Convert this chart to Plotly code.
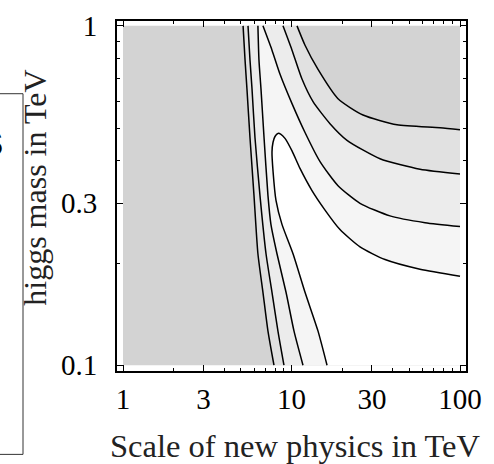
import plotly.graph_objects as go

# Contour curves in the (scale of new physics, Higgs mass) plane, both in TeV.
# Each curve is listed as (Lambda, m_h) samples running from one edge of the box to another.
line_a_lam = [5.16, 5.30, 5.44, 5.67, 5.99, 6.32, 6.77, 7.25, 7.87]
line_a_mh = [1.0, 0.794, 0.652, 0.469, 0.316, 0.213, 0.164, 0.126, 0.1]

line_b_lam = [5.52, 5.67, 5.83, 6.07, 6.50, 7.06, 7.66, 8.31, 9.02]
line_b_mh = [1.0, 0.794, 0.652, 0.469, 0.316, 0.213, 0.164, 0.126, 0.1]

line_c_lam = [6.32, 6.41, 6.59, 6.87, 7.25, 7.55, 8.20, 9.28, 10.35, 11.70]
line_c_mh = [1.0, 0.794, 0.652, 0.469, 0.316, 0.260, 0.213, 0.164, 0.126, 0.1]

# innermost curve: rises from the bottom edge to a sharp tip, then bends over to the right edge
tongue_lam = [16.25, 14.37, 12.03, 10.21, 8.78, 8.09, 7.77, 7.66, 7.77, 7.98, 8.31, 8.66,
              9.15, 10.07, 11.23, 13.23, 15.81, 19.40, 25.5, 35.9, 57.9, 100]
tongue_mh = [0.1, 0.126, 0.164, 0.213, 0.260, 0.306, 0.373, 0.425, 0.454, 0.472, 0.482, 0.479,
             0.466, 0.428, 0.380, 0.327, 0.2865, 0.251, 0.2232, 0.2048, 0.1918, 0.183]

line_d_lam = [6.77, 7.66, 8.55, 10.07, 12.03, 14.77, 18.88, 25.5, 38.4, 62.0, 100]
line_d_mh = [1.0, 0.848, 0.720, 0.590, 0.485, 0.398, 0.338, 0.300, 0.2754, 0.263, 0.2562]

line_e_lam = [8.90, 10.07, 11.54, 13.42, 16.92, 21.35, 33.52, 57.9, 100]
line_e_mh = [1.0, 0.848, 0.697, 0.598, 0.515, 0.460, 0.406, 0.378, 0.366]

line_f_lam = [10.78, 12.03, 14.37, 18.88, 26.57, 42.27, 76.1, 100]
line_f_mh = [1.0, 0.877, 0.744, 0.610, 0.546, 0.511, 0.501, 0.494]

lam_min, lam_max = 1.0, 100.0
mh_min, mh_max = 0.1, 1.0

x_major = [1, 3, 10, 30, 100]
x_major_text = ["1", "3", "10", "30", "100"]
x_minor = [2, 4, 5, 6, 7, 8, 9, 20, 40, 50, 60, 70, 80, 90]
y_major = [0.1, 0.3, 1]
y_major_text = ["0.1", "0.3", "1"]
y_minor = [0.2, 0.4, 0.5, 0.6, 0.7, 0.8, 0.9]

# grey levels of the shaded bands, darkest (outer) to lightest (inner)
shade_4 = "#d3d3d3"
shade_3 = "#e1e1e1"
shade_2 = "#ececec"
shade_1 = "#f5f5f5"
shade_0 = "#ffffff"

fig = go.Figure()


def band(left_lam, left_mh, right_lam, right_mh, color):
    """Region to the right of one curve and below the matching upper-right curve."""
    xs = list(left_lam) + [lam_max] + list(reversed(right_lam))
    ys = list(left_mh) + [mh_min] + list(reversed(right_mh))
    fig.add_trace(go.Scatter(x=xs, y=ys, fill="toself", fillcolor=color,
                             mode="none", hoverinfo="skip", showlegend=False))


# outermost level covers the whole box
fig.add_trace(go.Scatter(x=[lam_min, lam_max, lam_max, lam_min],
                         y=[mh_min, mh_min, mh_max, mh_max],
                         fill="toself", fillcolor=shade_4, mode="none",
                         hoverinfo="skip", showlegend=False))
band(line_a_lam, line_a_mh, line_f_lam, line_f_mh, shade_3)
band(line_b_lam, line_b_mh, line_e_lam, line_e_mh, shade_2)
band(line_c_lam, line_c_mh, line_d_lam, line_d_mh, shade_1)
fig.add_trace(go.Scatter(x=tongue_lam + [lam_max], y=tongue_mh + [mh_min],
                         fill="toself", fillcolor=shade_0, mode="none",
                         hoverinfo="skip", showlegend=False))

for xs, ys in [(line_a_lam, line_a_mh), (line_b_lam, line_b_mh), (line_c_lam, line_c_mh),
               (tongue_lam, tongue_mh), (line_d_lam, line_d_mh), (line_e_lam, line_e_mh),
               (line_f_lam, line_f_mh)]:
    fig.add_trace(go.Scatter(x=xs, y=ys, mode="lines",
                             line=dict(color="black", width=1.5, shape="spline", smoothing=0.6),
                             hoverinfo="skip", showlegend=False))

serif = "Liberation Serif"
W, H = 494, 464
ml, mr, mt, mb = 117, 28, 10, 93
pw, ph = W - ml - mr, H - mt - mb

axis_common = dict(type="log", showgrid=False, zeroline=False, showline=True,
                   linecolor="black", linewidth=2, mirror="ticks",
                   ticks="inside", ticklen=6, tickwidth=1.3, tickcolor="black",
                   tickfont=dict(family=serif, size=29, color="black"))

fig.update_xaxes(range=[-0.0356, 2.0356], tickmode="array", tickvals=x_major,
                 ticktext=x_major_text, ticklabelstandoff=1,
                 minor=dict(tickmode="array", tickvals=x_minor, ticks="inside",
                            ticklen=3, tickwidth=1, tickcolor="black"),
                 **axis_common)
fig.update_yaxes(range=[-1.0171, 0.0143], tickmode="array", tickvals=y_major,
                 ticktext=y_major_text, ticklabelstandoff=12,
                 minor=dict(tickmode="array", tickvals=y_minor, ticks="inside",
                            ticklen=3, tickwidth=1, tickcolor="black"),
                 **axis_common)


def px_x(p):
    return (p - ml) / pw


def px_y(p):
    return (H - mb - p) / ph


annotations = [
    dict(text="Scale of new physics in TeV", x=px_x(295), y=px_y(448),
         xref="paper", yref="paper", showarrow=False, xanchor="center", yanchor="middle",
         font=dict(family=serif, size=32.5, color="#222")),
    dict(text="higgs mass in TeV", x=px_x(35), y=px_y(182), textangle=-90,
         xref="paper", yref="paper", showarrow=False, xanchor="center", yanchor="middle",
         font=dict(family=serif, size=32, color="#222")),
    dict(text="<b>s</b>", x=px_x(6), y=px_y(133), xref="paper", yref="paper",
         showarrow=False, xanchor="right", yanchor="middle",
         font=dict(family="Liberation Sans", size=46, color="black")),
]

# edge of the neighbouring text panel on the left
shapes = [
    dict(type="line", xref="paper", yref="paper", x0=px_x(-5), x1=px_x(23),
         y0=px_y(85), y1=px_y(85), line=dict(color="#333", width=1)),
    dict(type="line", xref="paper", yref="paper", x0=px_x(23), x1=px_x(23),
         y0=px_y(85), y1=px_y(457), line=dict(color="#333", width=1)),
    dict(type="line", xref="paper", yref="paper", x0=px_x(-5), x1=px_x(23),
         y0=px_y(457), y1=px_y(457), line=dict(color="#333", width=1)),
]

fig.update_layout(width=W, height=H, margin=dict(l=ml, r=mr, t=mt, b=mb),
                  paper_bgcolor="white", plot_bgcolor="white",
                  annotations=annotations, shapes=shapes, showlegend=False)

fig.write_html("out.html")
